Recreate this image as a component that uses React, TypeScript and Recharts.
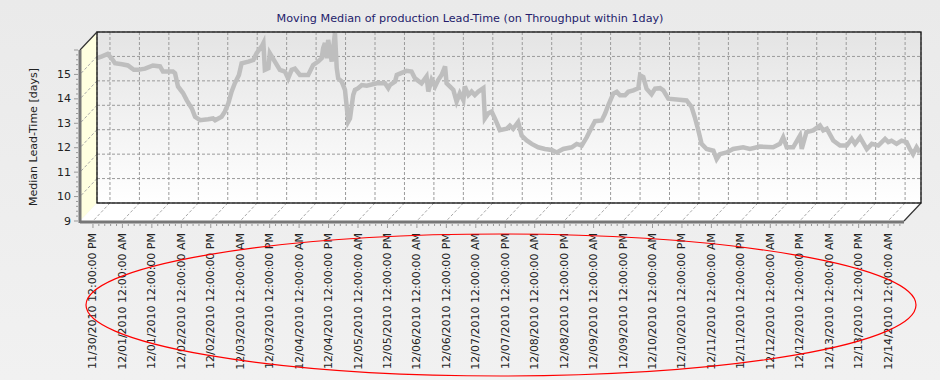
import { LineChart, Line, XAxis, YAxis, CartesianGrid } from 'recharts';

// half-day steps after 11/30/2010 12:00 PM
const times = [
  -0.44, -0.27, -0.08, 0.07, 0.17, 0.41, 0.61, 0.81, 0.95, 1.19, 1.46, 1.7, 1.8, 2.14, 2.21, 2.31,
  2.48, 2.61, 2.78, 2.89, 3.06, 3.33, 3.5, 3.57, 3.79, 3.9, 4.02, 4.13, 4.24, 4.38, 4.47, 4.7,
  4.87, 4.98, 5.15, 5.21, 5.26, 5.38, 5.43, 5.6, 5.77, 5.94, 6.05, 6.17, 6.28, 6.45, 6.73, 6.9,
  7.07, 7.19, 7.24, 7.3, 7.36, 7.41, 7.53, 7.64, 7.7, 7.75, 7.87, 7.98, 8.09, 8.15, 8.26, 8.32,
  8.43, 8.55, 8.72, 9.06, 9.34, 9.45, 9.51, 9.68, 9.74, 10.07, 10.24, 10.36, 10.58, 10.75, 10.81, 10.92,
  11.04, 11.15, 11.26, 11.38, 11.43, 11.54, 11.66, 11.77, 11.88, 12.0, 12.05, 12.17, 12.28, 12.39, 12.51, 12.68,
  12.73, 12.85, 12.96, 13.07, 13.24, 13.47, 13.58, 13.69, 13.86, 13.98, 14.15, 14.32, 14.54, 14.77, 15.0, 15.17,
  15.39, 15.68, 15.85, 16.02, 16.19, 16.36, 16.47, 16.7, 16.81, 16.92, 17.09, 17.21, 17.32, 17.49, 17.6, 17.77,
  17.94, 18.0, 18.11, 18.22, 18.39, 18.51, 18.68, 18.79, 18.96, 19.58, 19.75, 19.86, 19.98, 20.09, 20.26, 20.49,
  20.6, 20.71, 20.94, 21.16, 21.5, 21.73, 22.07, 22.52, 22.75, 22.86, 22.98, 23.2, 23.43, 23.49, 23.65, 23.88,
  24.11, 24.22, 24.34, 24.56, 24.79, 25.02, 25.19, 25.3, 25.47, 25.7, 25.87, 26.09, 26.32, 26.43, 26.54, 26.71,
  26.88, 27.05, 27.16, 27.27, 27.39, 27.5,
];

const medians = [
  14.93, 15.0, 15.1, 14.9, 14.72, 14.68, 14.63, 14.45, 14.45, 14.5, 14.63, 14.59, 14.38, 14.38, 14.31, 13.77,
  13.5, 13.2, 12.87, 12.53, 12.39, 12.43, 12.46, 12.39, 12.53, 12.74, 13.08, 13.56, 13.9, 14.24, 14.72, 14.79,
  14.86, 15.13, 15.41, 15.55, 14.45, 14.52, 15.13, 14.79, 14.45, 14.38, 14.1, 14.45, 14.5, 14.24, 14.24, 14.65,
  14.79, 14.93, 15.34, 15.55, 14.93, 15.68, 14.79, 15.96, 14.52, 14.1, 13.97, 13.63, 12.33, 12.46, 13.42, 13.63,
  13.7, 13.83, 13.8, 13.9, 13.9, 13.7, 13.83, 13.97, 14.24, 14.41, 14.38, 14.1, 13.9, 14.18, 13.56, 14.04,
  13.77, 14.04, 14.24, 14.59, 13.9, 13.77, 13.63, 13.15, 13.49, 13.21, 13.77, 13.42, 13.56, 13.42, 13.56, 13.7,
  12.46, 12.67, 12.74, 12.46, 11.98, 12.04, 12.17, 12.04, 12.31, 11.76, 11.56, 11.42, 11.28, 11.21, 11.17, 11.07,
  11.21, 11.28, 11.42, 11.35, 11.69, 12.1, 12.35, 12.38, 12.65, 13.0, 13.48, 13.55, 13.41, 13.41, 13.55, 13.61,
  13.7, 14.23, 14.16, 13.68, 13.45, 13.68, 13.7, 13.61, 13.27, 13.2, 12.93, 12.51, 11.97, 11.42, 11.21, 11.14,
  10.8, 11.0, 11.07, 11.21, 11.28, 11.21, 11.31, 11.28, 11.42, 11.69, 11.28, 11.28, 11.76, 11.21, 11.9, 11.97,
  12.17, 11.97, 12.04, 11.56, 11.35, 11.35, 11.62, 11.42, 11.69, 11.21, 11.42, 11.35, 11.62, 11.49, 11.55, 11.42,
  11.55, 11.49, 11.21, 11.0, 11.28, 11.07,
];

const tickLabels = [
  '11/30/2010 12:00:00 PM', '12/01/2010 12:00:00 AM', '12/01/2010 12:00:00 PM', '12/02/2010 12:00:00 AM',
  '12/02/2010 12:00:00 PM', '12/03/2010 12:00:00 AM', '12/03/2010 12:00:00 PM', '12/04/2010 12:00:00 AM',
  '12/04/2010 12:00:00 PM', '12/05/2010 12:00:00 AM', '12/05/2010 12:00:00 PM', '12/06/2010 12:00:00 AM',
  '12/06/2010 12:00:00 PM', '12/07/2010 12:00:00 AM', '12/07/2010 12:00:00 PM', '12/08/2010 12:00:00 AM',
  '12/08/2010 12:00:00 PM', '12/09/2010 12:00:00 AM', '12/09/2010 12:00:00 PM', '12/10/2010 12:00:00 AM',
  '12/10/2010 12:00:00 PM', '12/11/2010 12:00:00 AM', '12/11/2010 12:00:00 PM', '12/12/2010 12:00:00 AM',
  '12/12/2010 12:00:00 PM', '12/13/2010 12:00:00 AM', '12/13/2010 12:00:00 PM', '12/14/2010 12:00:00 AM',
];
const xTicks = tickLabels.map((_, i) => i);
const yTicks = [9, 10, 11, 12, 13, 14, 15, 16];

const data = times.map((t, i) => ({ t, v: medians[i] }));

// layout of the pseudo-3D box
const W = 940, H = 380;
const PL = 97, PT = 32, PR = 921, PB = 203;
const DX = 17, DY = 18;
const X_MIN = -0.44, X_MAX = 27.54;
const Y_MIN = 9, Y_MAX = 16;
const FONT = '"DejaVu Sans", Verdana, sans-serif';
const X_AXIS_H = 30, Y_AXIS_W = 30;

const sx = (t: number) => PL + ((t - X_MIN) / (X_MAX - X_MIN)) * (PR - PL);
const sy = (v: number) => PT + ((Y_MAX - v) / (Y_MAX - Y_MIN)) * (PB - PT);

function Backdrop() {
  const minorX: number[] = [];
  for (let t = 0; t <= X_MAX; t += 0.2) minorX.push(sx(t));
  const minorY: number[] = [];
  for (let v = Y_MIN; v <= Y_MAX + 0.001; v += 0.2) minorY.push(sy(v) + DY);
  return (
    <svg width={W} height={H} style={{ position: 'absolute', left: 0, top: 0 }}>
      <defs>
        <linearGradient id="page" x1="0" y1="0" x2="0" y2="1">
          <stop offset="0%" stopColor="#eaeaea" />
          <stop offset="100%" stopColor="#f1f1f1" />
        </linearGradient>
        <linearGradient id="wall" x1="0" y1="0" x2="0" y2="1">
          <stop offset="0%" stopColor="#e4e4e4" />
          <stop offset="100%" stopColor="#ffffff" />
        </linearGradient>
      </defs>
      <rect x={0} y={0} width={W} height={H} fill="url(#page)" />
      <rect x={PL} y={PT} width={PR - PL} height={PB - PT} fill="url(#wall)" />
      <polygon
        points={`${PL},${PT} ${PL},${PB} ${PL - DX},${PB + DY} ${PL - DX},${PT + DY}`}
        fill="#ffffe0"
      />
      <polygon
        points={`${PL},${PB} ${PR},${PB} ${PR - DX},${PB + DY} ${PL - DX},${PB + DY}`}
        fill="#ffffff"
      />
      {yTicks.slice(1, -1).map((v) => (
        <line key={v} x1={PL} y1={sy(v)} x2={PL - DX} y2={sy(v) + DY} stroke="#a8a8a8" strokeDasharray="3 2" />
      ))}
      {xTicks.map((i) => (
        <line key={i} x1={sx(i)} y1={PB} x2={sx(i) - DX} y2={PB + DY} stroke="#a8a8a8" strokeDasharray="3 2" />
      ))}
      <line x1={PL} y1={PT} x2={PL - DX} y2={PT + DY} stroke="#333" strokeWidth={1.2} />
      <line x1={PR} y1={PB} x2={PR - DX} y2={PB + DY} stroke="#333" strokeWidth={1.2} />
      <line x1={PL - DX} y1={PT + DY} x2={PL - DX} y2={PB + DY + 2} stroke="#777" strokeWidth={3} />
      <line x1={PL - DX} y1={PB + DY + 1} x2={PR - DX} y2={PB + DY + 1} stroke="#777" strokeWidth={3} />
      {minorX.map((x, i) => (
        <line key={'mx' + i} x1={x - DX} y1={PB + DY + 3} x2={x - DX} y2={PB + DY + (i % 5 === 0 ? 7 : 5)} stroke="#999" />
      ))}
      {minorY.map((y, i) => (
        <line key={'my' + i} x1={PL - DX - 2} y1={y} x2={PL - DX - (i % 5 === 0 ? 6 : 4)} y2={y} stroke="#999" />
      ))}
    </svg>
  );
}

function Overlay() {
  return (
    <svg width={W} height={H} style={{ position: 'absolute', left: 0, top: 0, pointerEvents: 'none' }}>
      <rect x={PL} y={PT} width={PR - PL} height={PB - PT} fill="none" stroke="#111" strokeWidth={1.3} />
      <text x={470} y={22} textAnchor="middle" fontFamily={FONT} fontSize={11.2} fill="#241c6b">
        Moving Median of production Lead-Time (on Throughput within 1day)
      </text>
      <text
        x={37}
        y={137}
        transform="rotate(-90, 37, 137)"
        textAnchor="middle"
        fontFamily={FONT}
        fontSize={11}
        fill="#222"
      >
        Median Lead-Time [days]
      </text>
      <ellipse cx={501} cy={305} rx={415} ry={71} fill="none" stroke="#ff0000" strokeWidth={1.2} />
    </svg>
  );
}

const XTick = (props: any) => {
  const { x, payload } = props;
  const tx = x - DX;
  const ty = PB + DY + 12;
  return (
    <text
      x={tx}
      y={ty}
      transform={`rotate(-90, ${tx}, ${ty})`}
      textAnchor="end"
      dominantBaseline="central"
      fontFamily={FONT}
      fontSize={11}
      fill="#222"
    >
      {tickLabels[payload.value]}
    </text>
  );
};

const YTick = (props: any) => {
  const { y, payload } = props;
  if (payload.value === Y_MAX) return <g />;
  return (
    <text
      x={PL - DX - 9}
      y={y + DY}
      textAnchor="end"
      dominantBaseline="central"
      fontFamily={FONT}
      fontSize={11}
      fill="#222"
    >
      {payload.value}
    </text>
  );
};

export default function App() {
  return (
    <div style={{ position: 'absolute', left: 0, top: 0, width: W, height: H, overflow: 'hidden' }}>
      <Backdrop />
      <div style={{ position: 'absolute', left: 0, top: 0 }}>
        <LineChart
          width={W}
          height={H}
          data={data}
          margin={{ top: PT, right: W - PR, bottom: H - PB - X_AXIS_H, left: PL - Y_AXIS_W }}
        >
          <CartesianGrid stroke="#9a9a9a" strokeDasharray="3 2" />
          <XAxis
            dataKey="t"
            type="number"
            domain={[X_MIN, X_MAX]}
            ticks={xTicks}
            interval={0}
            height={X_AXIS_H}
            axisLine={false}
            tickLine={false}
            tick={XTick}
          />
          <YAxis
            type="number"
            domain={[Y_MIN, Y_MAX]}
            ticks={yTicks}
            interval={0}
            width={Y_AXIS_W}
            axisLine={false}
            tickLine={false}
            tick={YTick}
          />
          <Line
            dataKey="v"
            type="linear"
            stroke="#bebebe"
            strokeWidth={4.5}
            dot={false}
            isAnimationActive={false}
          />
        </LineChart>
      </div>
      <Overlay />
    </div>
  );
}
